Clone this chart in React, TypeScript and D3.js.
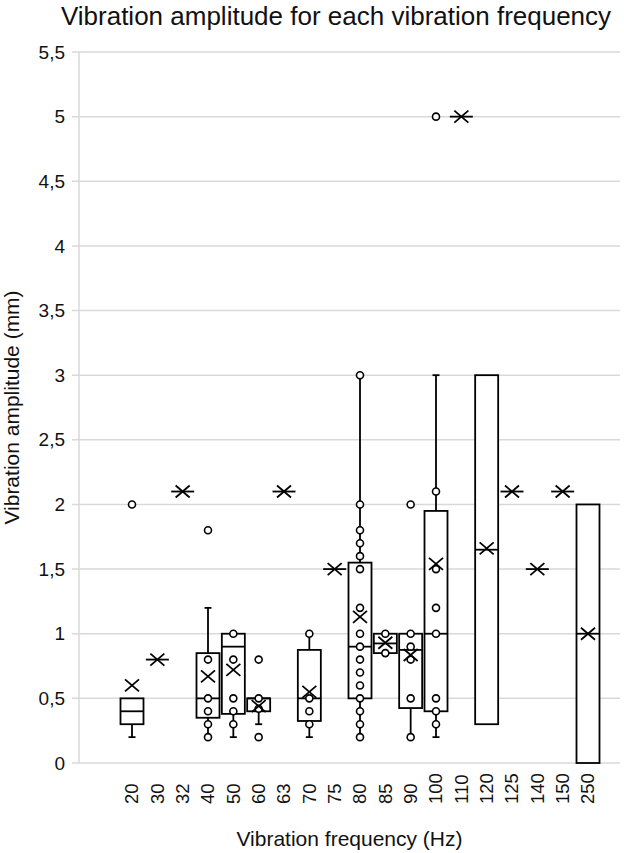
import React from 'react';
import * as d3 from 'd3';

// Frequencies (Hz) on the x axis
const categories = ['20', '30', '32', '40', '50', '60', '63', '70', '75', '80', '85', '90', '100', '110', '120', '125', '140', '150', '250'];

// Box statistics per frequency (mm)
const q1Values = [0.3, 0.8, 2.1, 0.35, 0.38, 0.4, 2.1, 0.325, 1.5, 0.5, 0.85, 0.425, 0.4, 5.0, 0.3, 2.1, 1.5, 2.1, 0];
const medianValues = [0.4, 0.8, 2.1, 0.5, 0.9, 0.5, 2.1, 0.5, 1.5, 0.9, 0.925, 0.875, 1.0, 5.0, 1.65, 2.1, 1.5, 2.1, 1.0];
const q3Values = [0.5, 0.8, 2.1, 0.85, 1.0, 0.5, 2.1, 0.875, 1.5, 1.55, 1.0, 1.0, 1.95, 5.0, 3.0, 2.1, 1.5, 2.1, 2.0];
const whiskerLow = [0.2, 0.8, 2.1, 0.2, 0.2, 0.3, 2.1, 0.2, 1.5, 0.2, 0.85, 0.2, 0.2, 5.0, 0.3, 2.1, 1.5, 2.1, 0];
const whiskerHigh = [0.5, 0.8, 2.1, 1.2, 1.0, 0.5, 2.1, 1.0, 1.5, 3.0, 1.0, 1.0, 3.0, 5.0, 3.0, 2.1, 1.5, 2.1, 2.0];
const meanValues = [0.6, 0.8, 2.1, 0.67, 0.72, 0.44, 2.1, 0.55, 1.5, 1.13, 0.93, 0.835, 1.54, 5.0, 1.66, 2.1, 1.5, 2.1, 1.0];

// Inner points and outliers drawn as circles
const pointValues: number[][] = [
  [2.0],
  [],
  [],
  [1.8, 0.8, 0.5, 0.4, 0.3, 0.2],
  [1.0, 0.8, 0.5, 0.4, 0.3],
  [0.8, 0.5, 0.42, 0.2],
  [],
  [1.0, 0.5, 0.4, 0.3],
  [],
  [3.0, 2.0, 1.8, 1.7, 1.6, 1.5, 1.2, 1.0, 0.9, 0.8, 0.7, 0.6, 0.5, 0.4, 0.3, 0.2],
  [1.0, 0.85],
  [2.0, 1.0, 0.9, 0.8, 0.5, 0.2],
  [5.0, 2.1, 1.5, 1.2, 1.0, 0.5, 0.4, 0.3],
  [],
  [],
  [],
  [],
  [],
  [],
];

const W = 624;
const H = 853;
const plotLeft = 79;
const plotRight = 620;
const font = '"Liberation Sans", Arial, sans-serif';
const ink = '#111';
const gridColor = '#d9d9d9';

export default function App() {
  const y = d3.scaleLinear().domain([0, 5.5]).range([763, 52]);
  const x = d3.scalePoint<string>().domain(categories).range([132, 588]);
  const yTicks = d3.range(0, 5.51, 0.5);
  const boxW = 23;
  const capW = 7;
  const mx = 7;
  const my = 6;
  const fmt = (v: number) => String(+v.toFixed(1)).replace('.', ',');

  return (
    <svg width={W} height={H} style={{ position: 'absolute', left: 0, top: 0, background: '#fff' }}>
      <rect width={W} height={H} fill="#fff" />
      <text x={336} y={25} textAnchor="middle" fontFamily={font} fontSize={26} fill={ink}>
        Vibration amplitude for each vibration frequency
      </text>

      {/* grid + y ticks */}
      {yTicks.map((t) => (
        <g key={t}>
          <line x1={72} x2={plotRight} y1={y(t)} y2={y(t)} stroke={gridColor} strokeWidth={1.5} />
          <text x={65} y={y(t)} dy="0.35em" textAnchor="end" fontFamily={font} fontSize={19} fill={ink}>
            {fmt(t)}
          </text>
        </g>
      ))}
      <line x1={plotLeft} x2={plotLeft} y1={y(5.5)} y2={y(0)} stroke={gridColor} strokeWidth={1.5} />

      {/* boxes */}
      {categories.map((c, i) => {
        const cx = x(c) as number;
        return (
          <g key={c} stroke="#000" strokeWidth={1.8} fill="none">
            {whiskerHigh[i] > q3Values[i] && (
              <g>
                <line x1={cx} x2={cx} y1={y(q3Values[i])} y2={y(whiskerHigh[i])} />
                <line x1={cx - capW / 2} x2={cx + capW / 2} y1={y(whiskerHigh[i])} y2={y(whiskerHigh[i])} />
              </g>
            )}
            {whiskerLow[i] < q1Values[i] && (
              <g>
                <line x1={cx} x2={cx} y1={y(q1Values[i])} y2={y(whiskerLow[i])} />
                <line x1={cx - capW / 2} x2={cx + capW / 2} y1={y(whiskerLow[i])} y2={y(whiskerLow[i])} />
              </g>
            )}
            <rect
              x={cx - boxW / 2}
              y={y(q3Values[i])}
              width={boxW}
              height={y(q1Values[i]) - y(q3Values[i])}
              fill="#fff"
            />
            <line x1={cx - boxW / 2} x2={cx + boxW / 2} y1={y(medianValues[i])} y2={y(medianValues[i])} />
            {pointValues[i].map((p, j) => (
              <circle key={j} cx={cx} cy={y(p)} r={3.5} fill="#fff" strokeWidth={1.6} />
            ))}
            <line x1={cx - mx} x2={cx + mx} y1={y(meanValues[i]) - my} y2={y(meanValues[i]) + my} />
            <line x1={cx - mx} x2={cx + mx} y1={y(meanValues[i]) + my} y2={y(meanValues[i]) - my} />
          </g>
        );
      })}

      {/* x tick labels */}
      {categories.map((c) => (
        <text
          key={c}
          transform={`translate(${x(c)},804) rotate(-90)`}
          dy="0.35em"
          textAnchor="start"
          fontFamily={font}
          fontSize={18.5}
          fill={ink}
        >
          {c}
        </text>
      ))}

      <text x={(plotLeft + plotRight) / 2} y={846} textAnchor="middle" fontFamily={font} fontSize={21} fill={ink}>
        Vibration frequency (Hz)
      </text>
      <text
        transform={`translate(19,${(y(0) + y(5.5)) / 2}) rotate(-90)`}
        textAnchor="middle"
        fontFamily={font}
        fontSize={21}
        fill={ink}
      >
        Vibration amplitude (mm)
      </text>
    </svg>
  );
}
